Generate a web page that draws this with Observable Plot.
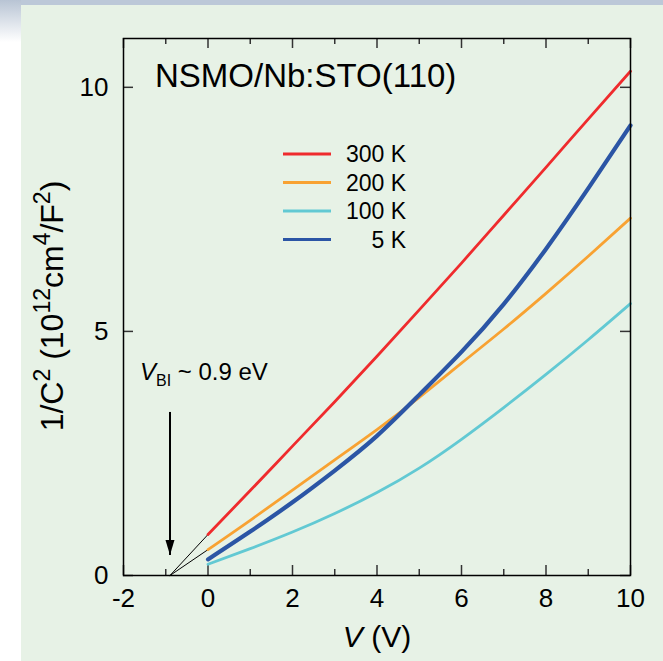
<!DOCTYPE html>
<html>
<head>
<meta charset="utf-8">
<script src="https://cdn.jsdelivr.net/npm/d3@7"></script>
<script src="https://cdn.jsdelivr.net/npm/@observablehq/plot@0.6"></script>
<style>
  html, body { margin: 0; padding: 0; background: #ffffff; }
  #wrap { position: relative; width: 663px; height: 661px; overflow: hidden; background: #ffffff; }
  #panel { position: absolute; left: 21px; top: 5px; right: 0; bottom: 0; background: #e7f2e6; }
  #topstrip { position: absolute; left: 0; top: 0; width: 663px; height: 5px; background: #bcc8d8; }
  #leftstrip { position: absolute; left: 0; top: 0; width: 21px; height: 42px; background: linear-gradient(#b8c4d4, #ffffff); }
  #chart { position: absolute; left: 0; top: 0; }
  svg { font-family: "Liberation Sans", Arial, sans-serif; }
</style>
</head>
<body>
<div id="wrap">
  <div id="topstrip"></div>
  <div id="leftstrip"></div>
  <div id="panel"></div>
  <div id="chart"></div>
</div>
<script>
// ---- data ----
const voltage = [0, 1, 2, 3, 4, 5, 6, 7, 8, 9, 10];
const series300K = [0.84, 1.74, 2.65, 3.56, 4.49, 5.44, 6.40, 7.38, 8.36, 9.35, 10.33];
const series200K = [0.53, 1.13, 1.75, 2.37, 2.99, 3.65, 4.35, 5.05, 5.78, 6.54, 7.32];
const series100K = [0.23, 0.55, 0.89, 1.27, 1.70, 2.20, 2.79, 3.44, 4.12, 4.83, 5.57];
const series5K   = [0.33, 0.90, 1.50, 2.15, 2.86, 3.70, 4.58, 5.56, 6.69, 7.93, 9.22];
const seriesNames = ["300 K", "200 K", "100 K", "5 K"];
const seriesColors = ["#ef2b2d", "#f8a232", "#62c9d3", "#2b55a5"];
const seriesWidths = [2.8, 2.8, 2.8, 4.2];
const vBI = -0.9;                 // built-in potential intercept
const extrapEnds = [0.84, 0.53];  // 1/C^2 at V = 0 for 300 K and 200 K fits
const arrowY = [3.35, 0.42];      // arrow from / to (1/C^2 units)
const xMajorTicks = [-2, 0, 2, 4, 6, 8, 10];
const xMinorTicks = [-1, 1, 3, 5, 7, 9];
const yTicks = [0, 5, 10];

const allSeries = [series300K, series200K, series100K, series5K];
const rows = [];
allSeries.forEach((vals, i) => vals.forEach((v, j) => rows.push({V: voltage[j], c: v, name: seriesNames[i]})));
const extrap = [];
extrapEnds.forEach((e, i) => { extrap.push({V: vBI, c: 0, k: i}); extrap.push({V: 0, c: e, k: i}); });

const W = 663, H = 661, mL = 123, mR = 33, mT = 38, mB = 86;
const fw = W - mL - mR, fh = H - mT - mB;

// narrow filled down-pointing triangle
const arrowHead = { draw(ctx, size) { const w = 4.5, h = 15; ctx.moveTo(-w, -h); ctx.lineTo(w, -h); ctx.lineTo(0, 0); ctx.closePath(); } };

const chart = Plot.plot({
  width: W, height: H,
  marginLeft: mL, marginRight: mR, marginTop: mT, marginBottom: mB,
  style: { background: "transparent", fontSize: "26px", color: "#000", fontFamily: "'Liberation Sans', Arial, sans-serif" },
  x: { domain: [-2, 10] },
  y: { domain: [0, 11] },
  marks: [
    Plot.axisX(xMajorTicks, { tickSize: 0, tickPadding: 13, fontSize: 26, label: null, tickFormat: d => String(d) }),
    Plot.axisY(yTicks, { tickSize: 0, tickPadding: 15, fontSize: 26, label: null, tickFormat: d => String(d) }),
    Plot.tickX(xMajorTicks, { x: d => d, insetTop: fh - 10, stroke: "#333", strokeWidth: 1.5 }),
    Plot.tickX(xMajorTicks, { x: d => d, insetBottom: fh - 10, stroke: "#333", strokeWidth: 1.5 }),
    Plot.tickX(xMinorTicks, { x: d => d, insetTop: fh - 6, stroke: "#333", strokeWidth: 1.5 }),
    Plot.tickX(xMinorTicks, { x: d => d, insetBottom: fh - 6, stroke: "#333", strokeWidth: 1.5 }),
    Plot.tickY(yTicks, { y: d => d, insetRight: fw - 10, stroke: "#333", strokeWidth: 1.5 }),
    Plot.tickY(yTicks, { y: d => d, insetLeft: fw - 10, stroke: "#333", strokeWidth: 1.5 }),
    Plot.line(extrap, { x: "V", y: "c", z: "k", stroke: "#000", strokeWidth: 1 }),
    ...seriesNames.map((n, i) => Plot.line(rows.filter(r => r.name === n), {
      x: "V", y: "c", stroke: seriesColors[i], strokeWidth: seriesWidths[i], curve: "natural"
    })),
    Plot.link([{}], { x1: vBI, x2: vBI, y1: arrowY[0], y2: arrowY[1], stroke: "#000", strokeWidth: 2 }),
    Plot.dot([{}], { x: vBI, y: arrowY[1], symbol: arrowHead, fill: "#000", stroke: "none", r: 5 }),
    Plot.frame({ stroke: "#000", strokeWidth: 1.5 })
  ]
});
document.getElementById("chart").appendChild(chart);

const svg = d3.select(chart);
const font = "'Liberation Sans', Arial, sans-serif";

// title
svg.append("text").attr("x", 155).attr("y", 87).attr("text-anchor", "start").attr("font-size", 33)
  .attr("font-family", font).attr("fill", "#000").text("NSMO/Nb:STO(110)");

// legend
const lg = svg.append("g");
seriesNames.forEach((n, i) => {
  const yy = 154 + i * 28.5;
  lg.append("line").attr("x1", 283).attr("x2", 331).attr("y1", yy).attr("y2", yy)
    .attr("stroke", seriesColors[i]).attr("stroke-width", 3);
  lg.append("text").attr("x", 406).attr("y", yy + 8).attr("text-anchor", "end")
    .attr("font-size", 23).attr("font-family", font).attr("fill", "#000").text(n);
});

// V_BI annotation
const ann = svg.append("text").attr("x", 140).attr("y", 380).attr("text-anchor", "start").attr("font-size", 24)
  .attr("font-family", font).attr("fill", "#000");
ann.append("tspan").attr("font-style", "italic").text("V");
ann.append("tspan").attr("font-size", 16).attr("dy", 6).text("BI");
ann.append("tspan").attr("dy", -6).text(" ~ " + Math.abs(vBI) + " eV");

// x label
const xl = svg.append("text").attr("x", 377).attr("y", 647).attr("text-anchor", "middle")
  .attr("font-size", 30).attr("font-family", font).attr("fill", "#000");
xl.append("tspan").attr("font-style", "italic").text("V");
xl.append("tspan").text(" (V)");

// y label
const yl = svg.append("text").attr("transform", "translate(63,306) rotate(-90)").attr("text-anchor", "middle")
  .attr("font-size", 32).attr("font-family", font).attr("fill", "#000");
const sup = (t) => { yl.append("tspan").attr("font-size", 23).attr("dy", -13).text(t); };
const base = (t) => { yl.append("tspan").attr("dy", 13).text(t); };
yl.append("tspan").text("1/C");
sup("2"); base(" (10"); sup("12"); base("cm"); sup("4"); base("/F"); sup("2"); base(")");
</script>
</body>
</html>
